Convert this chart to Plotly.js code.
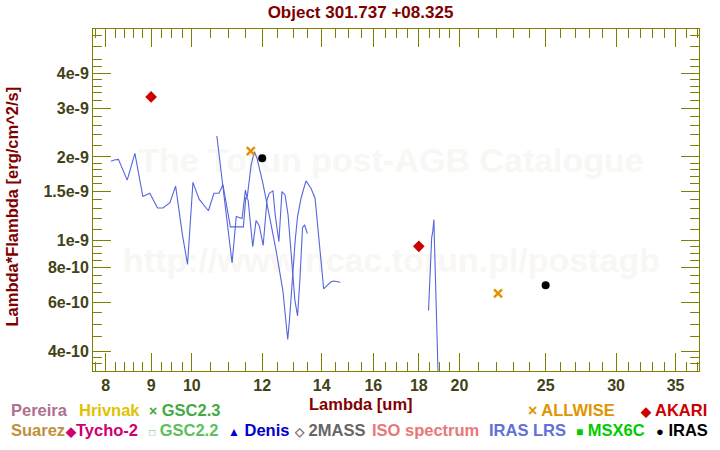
<!DOCTYPE html>
<html>
<head>
<meta charset="utf-8">
<script src="https://cdn.plot.ly/plotly-3.0.1.min.js"></script>
<style>html,body{margin:0;padding:0;background:#fff;}#chart{width:720px;height:450px;}</style>
</head>
<body>
<div id="chart"></div>
<script>
// ---- data ----
const lrsBlueWave = [8.11, 8.18, 8.27, 8.46, 8.63, 8.81, 8.97, 9.15, 9.28, 9.45, 9.59, 9.76, 9.89, 10.03, 10.19, 10.44, 10.59, 10.73, 10.84, 11.05, 11.43, 11.50, 11.57, 11.71, 11.81, 11.91, 12.03, 12.15, 12.22, 12.34, 12.41, 12.53, 12.63, 12.73, 12.83, 12.96, 13.06, 13.15, 13.23, 13.32, 13.39, 13.49];
const lrsBlueFlux = [1.93e-9, 1.95e-9, 1.96e-9, 1.65e-9, 2.06e-9, 1.44e-9, 1.48e-9, 1.31e-9, 1.31e-9, 1.37e-9, 1.57e-9, 1.05e-9, 8.2e-10, 1.62e-9, 1.41e-9, 1.28e-9, 1.48e-9, 1.48e-9, 1.59e-9, 1.12e-9, 1.12e-9, 1.43e-9, 1.40e-9, 9.5e-10, 1.18e-9, 1.13e-9, 9.6e-10, 1.40e-9, 1.48e-9, 1.51e-9, 1.24e-9, 9.9e-10, 1.50e-9, 1.46e-9, 1.24e-9, 8.5e-10, 6.1e-10, 5.35e-10, 7.2e-10, 1.11e-9, 1.14e-9, 1.06e-9];
const lrsRedWave = [10.67, 10.84, 10.93, 11.10, 11.22, 11.39, 11.49, 11.54, 11.66, 11.76, 11.84, 12.02, 12.23, 12.44, 12.66, 12.76, 12.82, 12.88, 12.99, 13.07, 13.15, 13.27, 13.44, 13.62, 13.76, 14.07, 14.34, 14.45, 14.69, null, 18.46, 18.48, 18.53, 18.56, 18.61, 18.67, 18.72, 18.74, 18.80, 18.85, 18.90, 18.93];
const lrsRedFlux = [2.38e-9, 1.59e-9, 1.24e-9, 8.3e-10, 1.22e-9, 1.20e-9, 1.52e-9, 1.42e-9, 1.87e-9, 2.09e-9, 1.98e-9, 1.61e-9, 1.22e-9, 9.2e-10, 6.6e-10, 5.2e-10, 4.4e-10, 5.2e-10, 8.0e-10, 1.0e-9, 1.22e-9, 1.42e-9, 1.64e-9, 1.54e-9, 1.42e-9, 6.7e-10, 7.1e-10, 7.15e-10, 7.07e-10, null, 5.6e-10, 6.0e-10, 7.0e-10, 8.2e-10, 1.02e-9, 1.09e-9, 1.19e-9, 1.02e-9, 7.4e-10, 5.4e-10, 4.0e-10, 3.15e-10];

const akariWave = [9.0, 18.0];
const akariFlux = [3.29e-9, 9.53e-10];
const allwiseWave = [11.65, 22.1];
const allwiseFlux = [2.10e-9, 6.45e-10];
const irasWave = [12.0, 25.0];
const irasFlux = [1.98e-9, 6.9e-10];

const xTickVals = [8, 9, 10, 12, 14, 16, 18, 20, 25, 30, 35];
const xTickText = ['8', '9', '10', '12', '14', '16', '18', '20', '25', '30', '35'];
const xMinorVals = [7.8, 8.2, 8.4, 8.6, 8.8, 9.25, 9.5, 9.75, 10.5, 11, 11.5, 12.5, 13, 13.5, 14.5, 15, 15.5, 16.5, 17, 17.5, 18.5, 19, 19.5, 21, 22, 23, 24, 26, 27, 28, 29, 31, 32, 33, 34, 36, 37];
const yTickVals = [4e-10, 6e-10, 8e-10, 1e-9, 1.5e-9, 2e-9, 3e-9, 4e-9];
const yTickText = ['4e-10', '6e-10', '8e-10', '1e-9', '1.5e-9', '2e-9', '3e-9', '4e-9'];
const yMinorVals = [3.6e-10, 3.8e-10, 4.5e-10, 5e-10, 5.5e-10, 6.5e-10, 7e-10, 7.5e-10, 8.5e-10, 9e-10, 9.5e-10, 1.1e-9, 1.2e-9, 1.3e-9, 1.4e-9, 1.6e-9, 1.7e-9, 1.8e-9, 1.9e-9, 2.2e-9, 2.4e-9, 2.6e-9, 2.8e-9, 3.2e-9, 3.4e-9, 3.6e-9, 3.8e-9, 4.25e-9, 4.5e-9, 5e-9, 5.5e-9];

const titleText = 'Object 301.737 +08.325';
const xTitle = 'Lambda [um]';
const yTitle = 'Lambda*Flambda [erg/cm^2/s]';
const watermarkLines = ['The Torun post-AGB Catalogue', 'http://www.ncac.torun.pl/postagb'];

const legendRow1 = [
  {t: 'Pereira', c: '#b0708f', px: 10},
  {t: 'Hrivnak', c: '#e2c200', px: 78},
  {t: '<span style="font-size:14px">×</span> GSC2.3', c: '#44aa44', px: 148},
  {t: '<span style="font-size:16px">×</span> ALLWISE', c: '#e09500', px: 527},
  {t: '<span style="font-size:13px">◆</span> AKARI', c: '#cc0000', px: 639}
];
const legendRow2 = [
  {t: 'Suarez', c: '#c09040', px: 10},
  {t: '<span style="font-size:13px">◆</span>Tycho-2', c: '#d0006f', px: 64},
  {t: '<span style="font-size:10px">□</span> GSC2.2', c: '#5cc05c', px: 148},
  {t: '<span style="font-size:12px">▲</span> Denis', c: '#0000cc', px: 227},
  {t: '<span style="font-size:12px">◇</span> 2MASS', c: '#666666', px: 293},
  {t: 'ISO spectrum', c: '#e87878', px: 371},
  {t: 'IRAS LRS', c: '#6070d8', px: 488},
  {t: '<span style="font-size:12px">■</span> MSX6C', c: '#00cc00', px: 575},
  {t: '<span style="font-size:13px">●</span> IRAS', c: '#000000', px: 655}
];

// ---- layout geometry ----
const W = 720, H = 450;
const M = {l: 93, r: 21, t: 29, b: 79};
const PW = W - M.l - M.r, PH = H - M.t - M.b;
const xRange = [0.8889, 1.5704];
const yRange = [-9.470, -8.238];
const FONT = 'Liberation Sans, Arial, Helvetica, sans-serif';
const OLIVE = '#808000';
const LABEL = '#424218';
const DARKRED = '#800000';

function pxX(px) { return (px - M.l) / PW; }
function pxY(py) { return (H - M.b - py) / PH; }
function fracToX(f) { return Math.pow(10, xRange[0] + f * (xRange[1] - xRange[0])); }
function fracToY(f) { return Math.pow(10, yRange[0] + f * (yRange[1] - yRange[0])); }

const wmPos = [[pxX(391), pxY(163)], [pxX(391.5), pxY(263)]];

const traces = [
  {
    x: wmPos.map(p => fracToX(p[0])), y: wmPos.map(p => fracToY(p[1])),
    mode: 'text', text: watermarkLines, textposition: 'middle center',
    textfont: {family: FONT, size: 34, color: '#f9f7f3', weight: 'bold'},
    hoverinfo: 'skip', showlegend: false, cliponaxis: false
  },
  {
    x: lrsBlueWave, y: lrsBlueFlux, mode: 'lines',
    line: {color: '#5566dd', width: 1.1}, connectgaps: false, showlegend: false
  },
  {
    x: lrsRedWave, y: lrsRedFlux, mode: 'lines',
    line: {color: '#5566dd', width: 1.1}, connectgaps: false, showlegend: false
  },
  {
    x: akariWave, y: akariFlux, mode: 'markers',
    marker: {symbol: 'diamond', size: 9, color: '#cc0000'}, showlegend: false
  },
  {
    x: allwiseWave, y: allwiseFlux, mode: 'markers',
    marker: {symbol: 'x-thin', size: 8, line: {color: '#e09500', width: 2.5}}, showlegend: false
  },
  {
    x: irasWave, y: irasFlux, mode: 'markers',
    marker: {symbol: 'circle', size: 8, color: '#000000'}, showlegend: false
  }
];

const annotations = [];
annotations.push({
  text: xTitle, xref: 'paper', yref: 'paper', x: pxX(361), y: pxY(404),
  xanchor: 'center', yanchor: 'middle', showarrow: false,
  font: {family: FONT, size: 16.5, color: DARKRED, weight: 'bold'}
});
annotations.push({
  text: yTitle, xref: 'paper', yref: 'paper', x: pxX(11.5), y: pxY(207),
  xanchor: 'center', yanchor: 'middle', showarrow: false, textangle: -90,
  font: {family: FONT, size: 16.5, color: DARKRED, weight: 'bold'}
});
legendRow1.forEach(it => annotations.push({
  text: it.t, xref: 'paper', yref: 'paper', x: pxX(it.px), y: pxY(410),
  xanchor: 'left', yanchor: 'middle', showarrow: false, borderpad: 0,
  font: {family: FONT, size: 16.5, color: it.c, weight: 'bold'}
}));
legendRow2.forEach(it => annotations.push({
  text: it.t, xref: 'paper', yref: 'paper', x: pxX(it.px), y: pxY(430),
  xanchor: 'left', yanchor: 'middle', showarrow: false, borderpad: 0,
  font: {family: FONT, size: 16.5, color: it.c, weight: 'bold'}
}));

const axisCommon = {
  type: 'log', showgrid: false, zeroline: false,
  showline: true, linecolor: OLIVE, linewidth: 1, mirror: 'allticks',
  ticks: 'inside', ticklen: 18, tickwidth: 1, tickcolor: OLIVE,
  tickmode: 'array',
  tickfont: {family: FONT, size: 16, color: LABEL, weight: 'bold'},
  fixedrange: true
};

const layout = {
  width: W, height: H,
  margin: M,
  paper_bgcolor: '#ffffff', plot_bgcolor: '#ffffff',
  showlegend: false,
  title: {
    text: titleText, xref: 'container', yref: 'container',
    x: 360.5 / W, y: 1 - 12 / H, xanchor: 'center', yanchor: 'middle',
    font: {family: FONT, size: 17, color: DARKRED, weight: 'bold'}
  },
  xaxis: Object.assign({}, axisCommon, {
    range: xRange, tickvals: xTickVals, ticktext: xTickText,
    minor: {tickmode: 'array', tickvals: xMinorVals, ticks: 'inside', ticklen: 9, tickcolor: OLIVE, tickwidth: 1, showgrid: false}
  }),
  yaxis: Object.assign({}, axisCommon, {
    range: yRange, tickvals: yTickVals, ticktext: yTickText,
    minor: {tickmode: 'array', tickvals: yMinorVals, ticks: 'inside', ticklen: 9, tickcolor: OLIVE, tickwidth: 1, showgrid: false}
  }),
  annotations: annotations
};

Plotly.newPlot('chart', traces, layout, {displayModeBar: false, staticPlot: true});
</script>
</body>
</html>
